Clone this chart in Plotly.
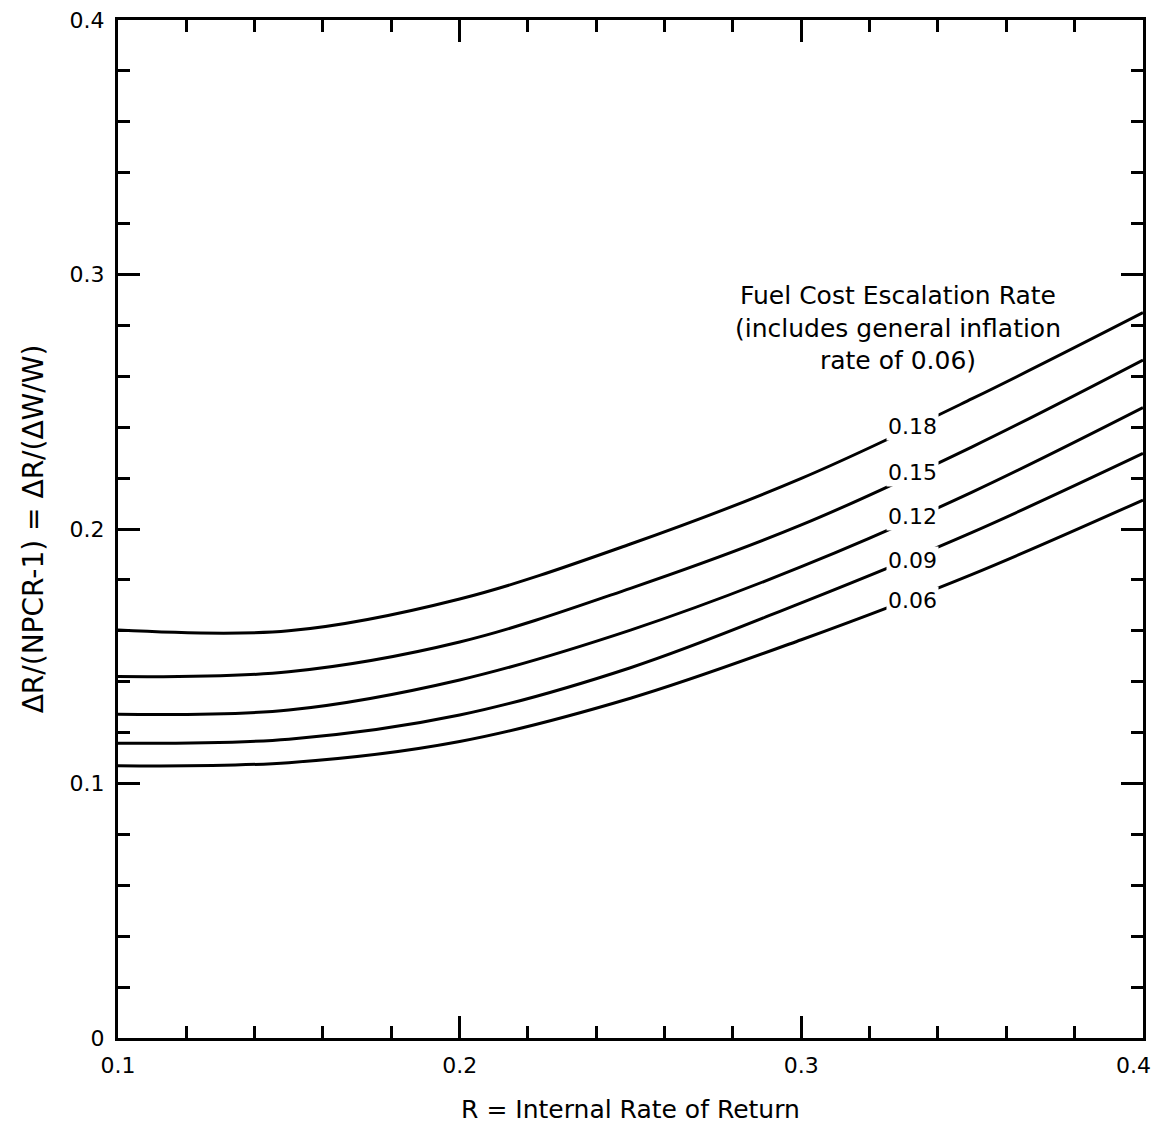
import plotly.graph_objects as go

# Data
R = [0.10, 0.15, 0.20, 0.25, 0.30, 0.35, 0.40]
series = {
    "0.18": [0.1603, 0.1600, 0.1725, 0.1941, 0.2199, 0.2512, 0.2850],
    "0.15": [0.1420, 0.1439, 0.1556, 0.1767, 0.2016, 0.2323, 0.2664],
    "0.12": [0.1272, 0.1289, 0.1407, 0.1603, 0.1852, 0.2145, 0.2477],
    "0.09": [0.1158, 0.1174, 0.1269, 0.1455, 0.1710, 0.1987, 0.2297],
    "0.06": [0.1070, 0.1082, 0.1165, 0.1335, 0.1565, 0.1822, 0.2114],
}
label_x = 0.3324
label_y = [0.2402, 0.2221, 0.2048, 0.1878, 0.1721]

x_tickvals = [0.1, 0.2, 0.3, 0.4]
x_ticktext = ["0.1", "0.2", "0.3", ""]   # last label placed as annotation below
y_tickvals = [0, 0.1, 0.2, 0.3, 0.4]
y_ticktext = ["0", "0.1", "0.2", "0.3", "0.4"]
last_x_label = "0.4"

FONT = "DejaVu Sans"

fig = go.Figure()
for name, vals in series.items():
    fig.add_trace(go.Scatter(
        x=R, y=vals, mode="lines", name=name,
        line=dict(color="black", width=3, shape="spline", smoothing=1.0),
        showlegend=False, hoverinfo="skip",
    ))

for (name, ly) in zip(series.keys(), label_y):
    fig.add_annotation(
        x=label_x, y=ly, text=name, showarrow=False,
        font=dict(family=FONT, size=22, color="black"),
        bgcolor="white", borderpad=1,
        xanchor="center", yanchor="middle",
    )

fig.add_annotation(
    x=0.3283, y=0.279,
    text="Fuel Cost Escalation Rate<br>(includes general inflation<br>rate of 0.06)",
    showarrow=False, align="center",
    font=dict(family=FONT, size=25, color="black"),
    xanchor="center", yanchor="middle",
)

fig.add_annotation(
    x=x_tickvals[-1], y=0, xref="x", yref="paper",
    text=last_x_label, showarrow=False,
    font=dict(family=FONT, size=22, color="black"),
    xanchor="right", yanchor="top", xshift=10, yshift=-13,
)

axis_common = dict(
    showline=True, linecolor="black", linewidth=3, mirror="allticks",
    ticks="inside", ticklen=22, tickwidth=2.5, tickcolor="black",
    showgrid=False, zeroline=False,
    tickfont=dict(family=FONT, size=22, color="black"),
    minor=dict(ticks="inside", ticklen=12, tickwidth=2.5, tickcolor="black", showgrid=False),
)

fig.update_xaxes(
    range=[0.1, 0.40001], tickmode="array", tickvals=x_tickvals, ticktext=x_ticktext,
    minor_dtick=0.02, minor_tick0=0.1,
    title=dict(text="R = Internal Rate of Return", font=dict(family=FONT, size=25, color="black"), standoff=24),
    ticklabelstandoff=6,
    **axis_common,
)
fig.update_yaxes(
    range=[0, 0.40001], tickmode="array", tickvals=y_tickvals, ticktext=y_ticktext,
    minor_dtick=0.02, minor_tick0=0,
    title=dict(text="ΔR/(NPCR-1) = ΔR/(ΔW/W)", font=dict(family=FONT, size=28, color="black"), standoff=18),
    ticklabelstandoff=6,
    **axis_common,
)

fig.update_layout(
    width=1156, height=1131,
    margin=dict(l=118, r=13, t=20, b=93, autoexpand=False),
    paper_bgcolor="white", plot_bgcolor="white",
    font=dict(family=FONT, size=22, color="black"),
)

fig.write_html("out.html")
